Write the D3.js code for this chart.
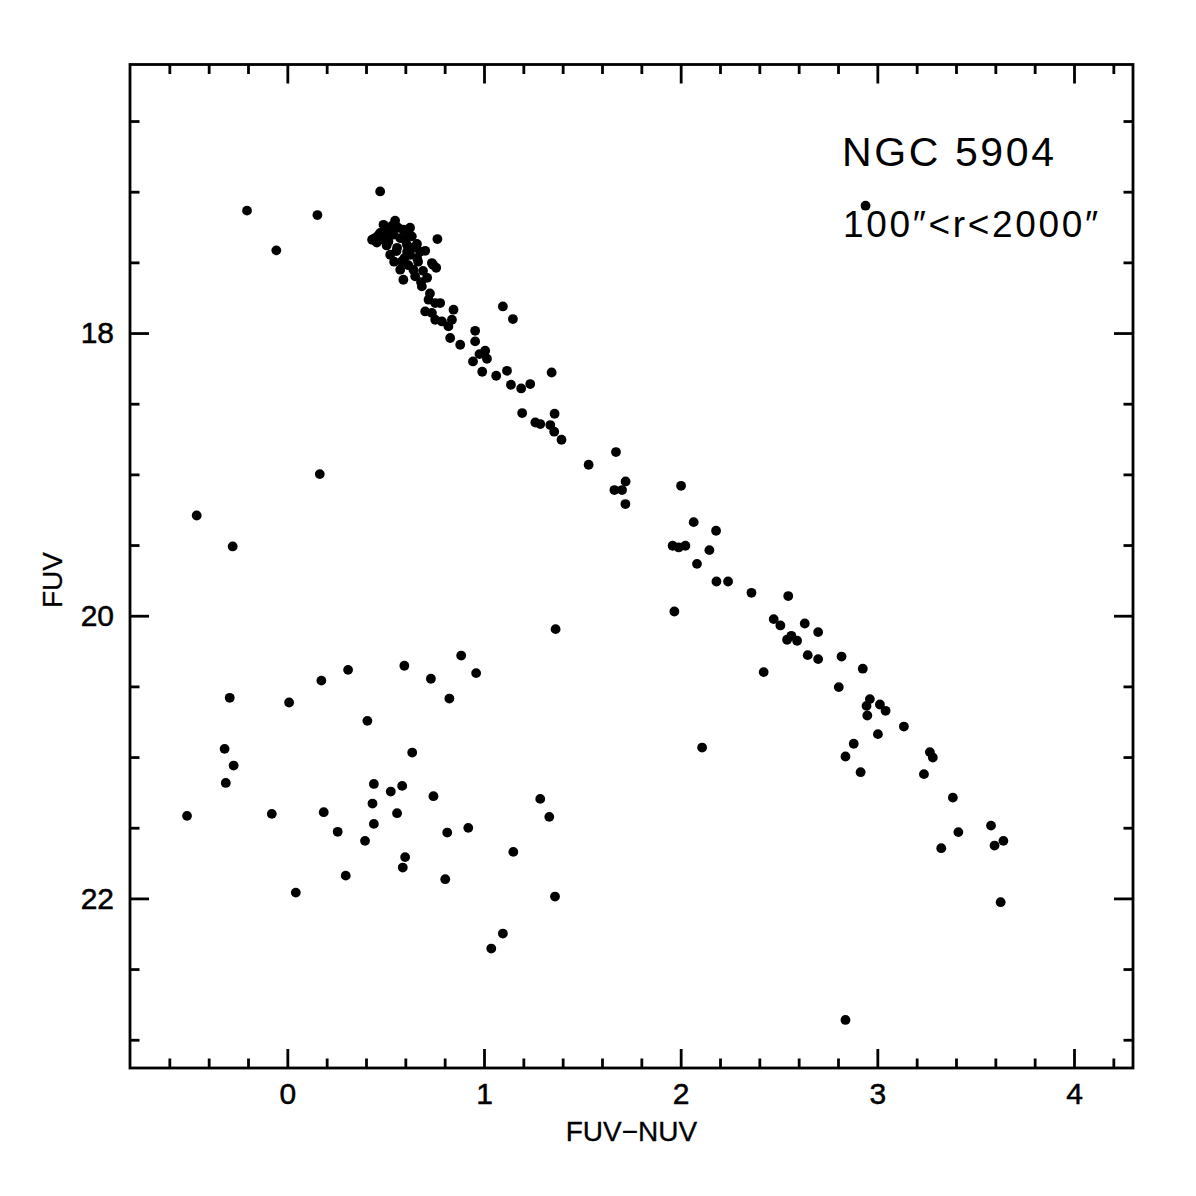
<!DOCTYPE html>
<html>
<head>
<meta charset="utf-8">
<script src="https://cdn.jsdelivr.net/npm/d3@7"></script>
<style>
  html, body { margin: 0; padding: 0; background: #fff; }
  svg { display: block; }
  text { font-family: "Liberation Sans", Arial, sans-serif; fill: #000; }
</style>
</head>
<body>
<svg id="chart" width="1196" height="1196"></svg>
<script>
// ---- data ----
const fuvNuv = [
  -0.205, -0.056, 0.153, 0.472, 2.940, 0.165, -0.461, -0.278,
  0.489, 0.548, 0.590, 0.633, 0.763, 0.446, 0.472, 0.514, 0.539, 0.574, 0.608, 0.659,
  0.701, 0.735, 0.523, 0.582, 0.624, 0.641, 0.590, 0.650, 0.684, 0.718, 0.701, 0.752,
  0.777, 0.735, 0.752, 0.786, 0.845, 0.837, 0.819, 0.828, 0.879, 0.955, 0.955, 1.006,
  0.431, 0.462, 0.492, 0.563, 0.533, 0.599, 0.558, 0.609, 0.640, 0.675, 0.665, 0.741,
  0.543, 0.574, 0.711, 0.757, 0.497, 0.624,
  0.455, 0.505, 0.520, 0.555, 0.595, 0.615, 0.660, 0.690, 0.615, 0.680, 0.725,
  1.096, 1.147, 0.977, 1.015, 0.944, 0.991, 1.062, 1.117, 1.137, 1.189, 1.235, 1.344,
  1.194, 1.261, 1.286, 1.359, 1.337, 1.357, 1.394, 1.532, 1.671, 1.720, 1.663, 1.702,
  1.719, 2.002, 2.066, 2.180, 1.959, 1.990, 2.024, 2.146, 2.083, 2.182, 2.241,
  2.360, 2.547, 1.968, 2.473, 2.507, 2.631, 2.699, 2.563, 2.541, 2.592, 2.646, 2.699,
  2.818, 2.926, 2.422, 2.804, 2.962, 2.945, 3.013, 3.042, 2.949, 3.135, 3.003, 2.880,
  2.109, 2.838, 2.915, 3.267, 3.282, 3.237, 3.384, 3.578, 3.412, 3.641, 3.596, 3.325,
  3.627, 2.838,
  0.884, 0.960, 0.595, 0.730, 0.824, 0.309, 0.173, -0.293, 0.009, 0.407, -0.319, -0.273,
  -0.313, 0.635, 0.440, 0.526, 0.584, 0.743, 0.433, 0.558, 0.440, -0.510, -0.079, 0.185,
  0.256, 0.395, 0.813, 0.920, 0.599, 0.587, 0.297, 0.803, 0.043,
  1.364, 1.286, 1.332, 1.149, 1.361, 1.096, 1.037
];
const fuv = [
  17.134, 17.415, 17.165, 16.998, 17.099, 18.998, 19.291, 19.510,
  17.234, 17.205, 17.269, 17.316, 17.335, 17.328, 17.292, 17.352, 17.304, 17.328, 17.375, 17.370,
  17.418, 17.505, 17.446, 17.493, 17.446, 17.552, 17.623, 17.599, 17.670, 17.764, 17.847, 17.788,
  17.788, 17.858, 17.906, 17.918, 17.835, 17.906, 17.953, 18.035, 18.083, 17.984, 18.059, 18.125,
  17.340, 17.310, 17.340, 17.255, 17.240, 17.340, 17.397, 17.425, 17.397, 17.425, 17.495, 17.517,
  17.495, 17.552, 17.609, 17.538, 17.270, 17.255,
  17.360, 17.380, 17.300, 17.420, 17.470, 17.300, 17.470, 17.560, 17.520, 17.640, 17.720,
  17.812, 17.901, 18.149, 18.182, 18.201, 18.274, 18.302, 18.267, 18.366, 18.392, 18.361, 18.279,
  18.566, 18.633, 18.644, 18.571, 18.651, 18.698, 18.755, 18.932, 18.842, 19.050, 19.111, 19.111,
  19.210, 19.081, 19.338, 19.399, 19.505, 19.517, 19.505, 19.536, 19.633, 19.758, 19.758,
  19.838, 19.861, 19.970, 20.024, 20.069, 20.055, 20.116, 20.142, 20.170, 20.177, 20.279, 20.307,
  20.289, 20.375, 20.399, 20.505, 20.590, 20.638, 20.628, 20.673, 20.706, 20.784, 20.838, 20.906,
  20.933, 20.996, 21.107, 20.965, 21.003, 21.121, 21.287, 21.485, 21.531, 21.593, 21.626, 21.645,
  22.027, 22.860,
  20.282, 20.406, 20.354, 20.446, 20.586, 20.383, 20.459, 20.581, 20.614, 20.744, 20.942, 21.060,
  21.183, 20.968, 21.190, 21.244, 21.204, 21.277, 21.329, 21.397, 21.473, 21.416, 21.402, 21.390,
  21.529, 21.593, 21.534, 21.501, 21.708, 21.782, 21.839, 21.864, 21.959,
  20.095, 21.296, 21.423, 21.671, 21.987, 22.249, 22.355
];
const xMajorTicks = [0, 1, 2, 3, 4];
const xMinorTicks = [-0.6, -0.4, -0.2, 0.2, 0.4, 0.6, 0.8, 1.2, 1.4, 1.6, 1.8, 2.2, 2.4, 2.6, 2.8, 3.2, 3.4, 3.6, 3.8, 4.2];
const yMajorTicks = [18, 20, 22];
const yMinorTicks = [16.5, 17, 17.5, 18.5, 19, 19.5, 20.5, 21, 21.5, 22.5, 23];
const xDomain = [-0.8, 4.3];
const yDomain = [16.1, 23.2];
const xTitle = "FUV\u2212NUV";
const yTitle = "FUV";
const titleText = "NGC 5904";
const subtitleText = "100\u2033<r<2000\u2033";

// ---- layout ----
const L = 130, R = 1133, T = 64.5, B = 1068;
const svg = d3.select("#chart");
const x = d3.scaleLinear().domain(xDomain).range([L, R]);
const y = d3.scaleLinear().domain(yDomain).range([T, B]);
const LW = 2.8, MAJ = 19, MIN = 9.5;
const FONT = "Liberation Sans, Arial, sans-serif";

function styleAxis(g) {
  g.select(".domain").remove();
  g.selectAll(".tick line").attr("stroke", "#000").attr("stroke-width", LW);
}

// bottom (ticks inward = up)
svg.append("g").attr("transform", `translate(0,${B})`)
  .call(d3.axisTop(x).tickValues(xMinorTicks).tickSize(MIN).tickFormat("")).call(styleAxis);
svg.append("g").attr("transform", `translate(0,${B})`)
  .call(d3.axisTop(x).tickValues(xMajorTicks).tickSize(MAJ).tickFormat("")).call(styleAxis);
// top (ticks inward = down)
svg.append("g").attr("transform", `translate(0,${T})`)
  .call(d3.axisBottom(x).tickValues(xMinorTicks).tickSize(MIN).tickFormat("")).call(styleAxis);
svg.append("g").attr("transform", `translate(0,${T})`)
  .call(d3.axisBottom(x).tickValues(xMajorTicks).tickSize(MAJ).tickFormat("")).call(styleAxis);
// left (ticks inward = right)
svg.append("g").attr("transform", `translate(${L},0)`)
  .call(d3.axisRight(y).tickValues(yMinorTicks).tickSize(MIN).tickFormat("")).call(styleAxis);
svg.append("g").attr("transform", `translate(${L},0)`)
  .call(d3.axisRight(y).tickValues(yMajorTicks).tickSize(MAJ).tickFormat("")).call(styleAxis);
// right (ticks inward = left)
svg.append("g").attr("transform", `translate(${R},0)`)
  .call(d3.axisLeft(y).tickValues(yMinorTicks).tickSize(MIN).tickFormat("")).call(styleAxis);
svg.append("g").attr("transform", `translate(${R},0)`)
  .call(d3.axisLeft(y).tickValues(yMajorTicks).tickSize(MAJ).tickFormat("")).call(styleAxis);

// tick labels
const xl = svg.append("g").attr("transform", `translate(0,${B})`)
  .call(d3.axisBottom(x).tickValues(xMajorTicks).tickSize(0).tickPadding(15).tickFormat(d3.format("d")));
xl.select(".domain").remove();
xl.selectAll("text").attr("font-size", 30).attr("font-family", FONT).attr("fill", "#000")
  .attr("stroke", "#000").attr("stroke-width", 0.5);

const yl = svg.append("g").attr("transform", `translate(${L},0)`)
  .call(d3.axisLeft(y).tickValues(yMajorTicks).tickSize(0).tickPadding(16).tickFormat(d3.format("d")));
yl.select(".domain").remove();
yl.selectAll("text").attr("font-size", 30).attr("font-family", FONT).attr("fill", "#000")
  .attr("stroke", "#000").attr("stroke-width", 0.5);

// frame
svg.append("rect").attr("x", L).attr("y", T).attr("width", R - L).attr("height", B - T)
  .attr("fill", "none").attr("stroke", "#000").attr("stroke-width", LW);

// points
const pts = fuvNuv.map((v, i) => [v, fuv[i]]);
svg.append("g").selectAll("circle").data(pts).join("circle")
  .attr("cx", d => x(d[0])).attr("cy", d => y(d[1])).attr("r", 4.9).attr("fill", "#000");

// axis titles
svg.append("text").attr("x", (L + R) / 2).attr("y", 1141).attr("text-anchor", "middle")
  .attr("font-size", 28).attr("stroke", "#000").attr("stroke-width", 0.3).text(xTitle);
svg.append("text").attr("transform", `translate(62,580) rotate(-90)`).attr("text-anchor", "middle")
  .attr("font-size", 28).attr("stroke", "#000").attr("stroke-width", 0.3).text(yTitle);

// annotations
svg.append("text").attr("x", 842).attr("y", 166).attr("font-size", 41)
  .attr("textLength", 212).attr("lengthAdjust", "spacing").text(titleText);
svg.append("text").attr("x", 843).attr("y", 237).attr("font-size", 37)
  .attr("textLength", 255).attr("lengthAdjust", "spacing").text(subtitleText);
</script>
</body>
</html>
